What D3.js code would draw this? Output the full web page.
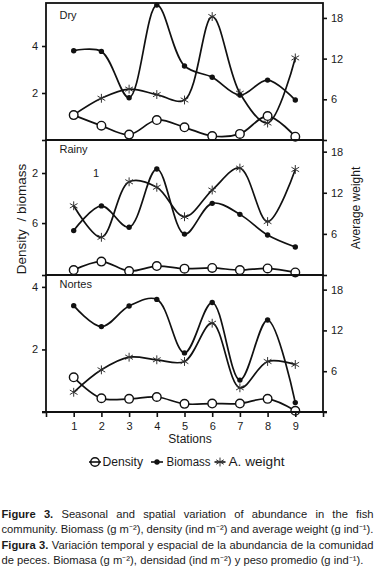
<!DOCTYPE html>
<html><head><meta charset="utf-8">
<script src="https://cdn.jsdelivr.net/npm/d3@7"></script>
<style>body{margin:0;background:#fff} svg{display:block} text{font-family:"Liberation Sans",Arial,sans-serif;fill:#1a1a1a}</style>
</head><body><svg id="c" width="381" height="573"></svg>
<script>
// ---------- data ----------
const stations = [1,2,3,4,5,6,7,8,9];
const xTicks = [0,1,2,3,4,5,6,7,8,9,10];
const xTickLabels = ["","1","2","3","4","5","6","7","8","9",""];
const seasons = ["Dry","Rainy","Nortes"];

const dryDensity = [1.06,0.61,0.23,0.85,0.54,0.17,0.26,1.02,0.14];
const dryBiomass = [3.80,3.77,1.80,5.74,3.15,2.67,1.91,2.55,1.70];
const dryWeight  = [3.7,6.15,7.5,6.7,5.9,18.2,6.9,2.5,12.1];

const rainyDensity = [0.21,0.57,0.17,0.38,0.27,0.30,0.21,0.28,0.11];
const rainyBiomass = [1.89,2.94,2.03,4.51,1.74,3.05,2.58,1.70,1.19];
const rainyWeight  = [10.1,5.5,13.6,12.8,8.5,12.4,15.6,7.8,15.4];

const nortesDensity = [1.11,0.44,0.42,0.48,0.26,0.27,0.27,0.42,0.04];
const nortesBiomass = [3.40,2.73,3.39,3.60,1.89,3.50,1.02,2.94,0.30];
const nortesWeight  = [2.9,6.2,8.06,7.68,7.43,13.06,3.56,7.43,6.99];

const dryLeftTicks = [0,2,4];        const dryLeftLabels = ["","2","4"];
const rainyLeftTicks = [0,2.21,4.34]; const rainyLeftLabels = ["","6","2"];
const nortesLeftTicks = [0,2,4];     const nortesLeftLabels = ["","2","4"];
const rightTicks = [0,6,12,18];      const rightTickLabels = ["","6","12","18"];

const legendLabels = ["Density","Biomass","A. weight"];
const yLeftTitle = "Density  / biomass";
const yRightTitle = "Average weight";
const xTitle = "Stations";
const strayLabel = "1";

const captionBold = ["Figure 3.","","Figura 3.",""];
const captionText = [
  "Seasonal and spatial variation of abundance in the fish",
  "community. Biomass (g m\u207B\u00B2), density (ind m\u207B\u00B2) and average weight (g ind\u207B\u00B9).",
  "Variación temporal y espacial de la abundancia de la comunidad",
  "de peces. Biomasa (g m\u207B\u00B2), densidad (ind m\u207B\u00B2) y peso promedio (g ind\u207B\u00B9)."
];
const captionJustify = [true,true,true,false];

// ---------- layout ----------
const svg = d3.select("#c");
const X0 = 46, X1 = 323;
const x = d3.scaleLinear().domain([0,10]).range([X0,X1]);

const panels = [
  {name:seasons[0], top:3,   bottom:140, leftMax:5.83, rightMax:20.2,
   density:dryDensity, biomass:dryBiomass, weight:dryWeight, lt:dryLeftTicks, ll:dryLeftLabels},
  {name:seasons[1], top:140, bottom:275, leftMax:5.745, rightMax:19.7,
   density:rainyDensity, biomass:rainyBiomass, weight:rainyWeight, lt:rainyLeftTicks, ll:rainyLeftLabels},
  {name:seasons[2], top:275, bottom:412, leftMax:4.38, rightMax:20.15,
   density:nortesDensity, biomass:nortesBiomass, weight:nortesWeight, lt:nortesLeftTicks, ll:nortesLeftLabels}
];

const curve = d3.curveCatmullRom.alpha(0.5);
const star = d3.symbol(d3.symbolAsterisk, 55);

panels.forEach((p,i)=>{
  const yl = d3.scaleLinear().domain([0,p.leftMax]).range([p.bottom,p.top]);
  const yr = d3.scaleLinear().domain([0,p.rightMax]).range([p.bottom,p.top]);
  const g = svg.append("g");
  const clipId = "clip"+i;
  svg.append("clipPath").attr("id",clipId).append("rect")
    .attr("x",X0).attr("y",p.top).attr("width",X1-X0).attr("height",p.bottom-p.top);

  const la = d3.axisLeft(yl).tickValues(p.lt).tickSize(4).tickPadding(4)
    .tickFormat((d,k)=>p.ll[k]);
  const lg = g.append("g").attr("transform",`translate(${X0},0)`).call(la);
  const ra = d3.axisRight(yr).tickValues(rightTicks).tickSize(4).tickPadding(4)
    .tickFormat((d,k)=>rightTickLabels[k]);
  const rg = g.append("g").attr("transform",`translate(${X1},0)`).call(ra);
  [lg,rg].forEach(a=>{
    a.select(".domain").remove();
    a.selectAll("line").attr("stroke","#111").attr("stroke-width",1.6);
    a.selectAll("text").attr("font-size",11).attr("fill","#222").style("font-family","Liberation Sans, Arial, sans-serif");
  });

  const plot = g.append("g").attr("clip-path",`url(#${clipId})`);
  const lineL = d3.line().x((d,k)=>x(stations[k])).y(d=>yl(d)).curve(curve);
  const lineR = d3.line().x((d,k)=>x(stations[k])).y(d=>yr(d)).curve(curve);
  const lineStyle = s=>s.attr("fill","none").attr("stroke","#111").attr("stroke-width",1.7);
  plot.append("path").datum(p.weight).attr("d",lineR).call(lineStyle);
  plot.append("path").datum(p.biomass).attr("d",lineL).call(lineStyle);
  plot.append("path").datum(p.density).attr("d",lineL).call(lineStyle);

  g.selectAll(".st").data(p.weight).enter().append("path")
    .attr("d",star).attr("transform",(d,k)=>`translate(${x(stations[k])},${yr(d)})`)
    .attr("fill","none").attr("stroke","#333").attr("stroke-width",1);
  g.selectAll(".bm").data(p.biomass).enter().append("circle")
    .attr("cx",(d,k)=>x(stations[k])).attr("cy",d=>yl(d)).attr("r",2.7).attr("fill","#111");
  g.selectAll(".dn").data(p.density).enter().append("circle")
    .attr("cx",(d,k)=>x(stations[k])).attr("cy",d=>yl(d)).attr("r",4.3)
    .attr("fill","#fff").attr("stroke","#111").attr("stroke-width",1.4);

  g.append("rect").attr("x",X0).attr("y",p.top).attr("width",X1-X0).attr("height",p.bottom-p.top)
    .attr("fill","none").attr("stroke","#111").attr("stroke-width",1.8);

  g.append("text").attr("x",59.5).attr("y",p.top+ (i===0?16:12.7)).attr("font-size",11).text(p.name);
});

svg.append("text").attr("x",96).attr("y",177).attr("text-anchor","middle")
  .attr("font-size",11).attr("fill","#333").text(strayLabel);

const xa = d3.axisBottom(x).tickValues(xTicks).tickSize(5).tickPadding(5)
  .tickFormat((d,k)=>xTickLabels[k]);
const xg = svg.append("g").attr("transform",`translate(0,412)`).call(xa);
xg.select(".domain").remove();
xg.selectAll("line").attr("stroke","#111").attr("stroke-width",1.6);
xg.selectAll("text").attr("font-size",11).attr("fill","#222").style("font-family","Liberation Sans, Arial, sans-serif");
svg.append("line").attr("x1",42).attr("x2",327).attr("y1",412).attr("y2",412)
  .attr("stroke","#111").attr("stroke-width",2);

svg.append("text").attr("x",190).attr("y",443).attr("text-anchor","middle").attr("font-size",12).text(xTitle);

svg.append("text").attr("transform","translate(26,219) rotate(-90)").attr("text-anchor","middle")
  .attr("font-size",13.5).style("white-space","pre").text(yLeftTitle);
svg.append("text").attr("transform","translate(359.5,208) rotate(-90)").attr("text-anchor","middle")
  .attr("font-size",12).text(yRightTitle);

// legend
const ly = 462;
const leg = svg.append("g");
const legItems = [
  {x1:89, x2:101, mx:95, tx:102.5, w:40.5},
  {x1:151, x2:163, mx:157, tx:166.5, w:44},
  {x1:214.5, x2:225.5, mx:220, tx:228.5, w:56}
];
legItems.forEach((it,k)=>{
  leg.append("line").attr("x1",it.x1).attr("x2",it.x2).attr("y1",ly).attr("y2",ly)
    .attr("stroke","#111").attr("stroke-width",1.6);
  if(k===0) leg.append("circle").attr("cx",it.mx).attr("cy",ly).attr("r",4.3).attr("fill","none").attr("stroke","#111").attr("stroke-width",1.5);
  if(k===1) leg.append("circle").attr("cx",it.mx).attr("cy",ly).attr("r",2.7).attr("fill","#111");
  if(k===2) leg.append("path").attr("d",star).attr("transform",`translate(${it.mx},${ly})`).attr("fill","none").attr("stroke","#333").attr("stroke-width",1);
  leg.append("text").attr("x",it.tx).attr("y",ly+4.3).attr("font-size",12)
    .attr("textLength",it.w).attr("lengthAdjust","spacingAndGlyphs").text(legendLabels[k]);
});

// caption (justified)
const cap = svg.append("g");
const fs = 10.5;
function measure(str,bold){
  const t = cap.append("text").attr("font-size",fs).attr("font-weight",bold?"bold":"normal").text(str);
  const w = t.node().getComputedTextLength(); t.remove(); return w;
}
const spaceW = measure("a b") - measure("ab");
const lines = captionText.map((txt,i)=>{
  const words = [];
  if(captionBold[i]) captionBold[i].split(" ").forEach(w=>words.push({t:w,b:true}));
  txt.split(" ").forEach(w=>words.push({t:w,b:false}));
  words.forEach(w=>w.w = measure(w.t,w.b));
  return words;
});
const nat = ws => d3.sum(ws,w=>w.w) + spaceW*(ws.length-1);
const sx = 362/nat(lines[3]);
const capX = 1.5, capW = 372;
const baselines = [517.5, 533, 548.5, 564];
lines.forEach((ws,i)=>{
  const g = cap.append("g").attr("transform",`translate(${capX},${baselines[i]}) scale(${sx},1)`);
  const total = d3.sum(ws,w=>w.w);
  const gap = captionJustify[i] ? (capW/sx - total)/(ws.length-1) : spaceW;
  let cx = 0;
  ws.forEach(w=>{
    g.append("text").attr("x",cx).attr("font-size",fs).attr("font-weight",w.b?"bold":"normal")
      .attr("fill","#111").text(w.t);
    cx += w.w + gap;
  });
});
</script></body></html>
